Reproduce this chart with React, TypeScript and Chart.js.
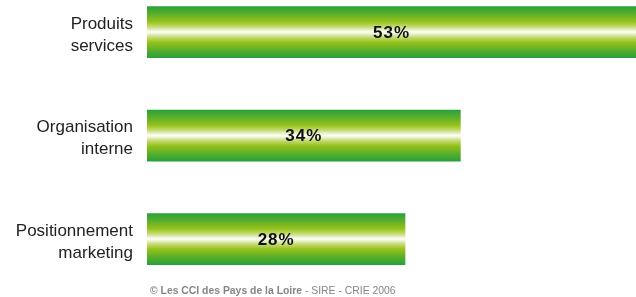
import React, { useEffect, useRef } from "react";
import { Chart, registerables } from "chart.js";

Chart.register(...registerables);

const categories: string[][] = [
  ["Produits", "services"],
  ["Organisation", "interne"],
  ["Positionnement", "marketing"],
];
const values: number[] = [53, 34, 28];
const valueLabels: string[] = ["53%", "34%", "28%"];
const axisMax = 53;
const footerBold = "© Les CCI des Pays de la Loire";
const footerNormal = " - SIRE - CRIE 2006";

const FONT = "'Liberation Sans', Arial, sans-serif";

const valuePlugin = {
  id: "valueLabels",
  afterDatasetsDraw(chart: any) {
    const ctx = chart.ctx;
    const meta = chart.getDatasetMeta(0);
    ctx.save();
    ctx.font = `bold 17px ${FONT}`;
    try { ctx.letterSpacing = "1px"; } catch (e) {}
    ctx.fillStyle = "#111111";
    ctx.textAlign = "center";
    ctx.textBaseline = "middle";
    meta.data.forEach((el: any, i: number) => {
      const cx = (el.base + el.x) / 2;
      ctx.fillText(valueLabels[i], cx, el.y + 1);
    });
    ctx.restore();
  },
};

const footerPlugin = {
  id: "footer",
  afterDraw(chart: any) {
    const ctx = chart.ctx;
    ctx.save();
    ctx.textBaseline = "alphabetic";
    ctx.textAlign = "left";
    ctx.fillStyle = "#858585";
    let x = 150;
    const y = 294;
    ctx.font = `bold 10.4px ${FONT}`;
    ctx.fillText(footerBold, x, y);
    x += ctx.measureText(footerBold).width;
    ctx.font = `10.4px ${FONT}`;
    ctx.fillText(footerNormal, x, y);
    ctx.restore();
  },
};

function barGradient(context: any) {
  const chart = context.chart;
  const yScale = chart.scales && chart.scales.y;
  if (!yScale || context.dataIndex === undefined) return "#8dbd1e";
  const y = yScale.getPixelForValue(context.dataIndex);
  if (!isFinite(y)) return "#8dbd1e";
  const h = 26;
  const g = chart.ctx.createLinearGradient(0, y - h, 0, y + h);
  g.addColorStop(0, "#27a03c");
  g.addColorStop(0.14, "#55ad2c");
  g.addColorStop(0.3, "#95c11a");
  g.addColorStop(0.4, "#c4db72");
  g.addColorStop(0.5, "#ffffff");
  g.addColorStop(0.6, "#c4db72");
  g.addColorStop(0.7, "#95c11a");
  g.addColorStop(0.86, "#55ad2c");
  g.addColorStop(1, "#27a03c");
  return g;
}

export default function App() {
  const ref = useRef<HTMLCanvasElement | null>(null);

  useEffect(() => {
    document.body.style.margin = "0";
    const canvas = ref.current;
    if (!canvas) return;
    const chart = new Chart(canvas, {
      type: "bar",
      data: {
        labels: categories,
        datasets: [
          {
            data: values,
            backgroundColor: barGradient,
            borderWidth: 0,
            barPercentage: 1,
            categoryPercentage: 0.5,
            clip: false,
          } as any,
        ],
      },
      options: {
        indexAxis: "y",
        animation: false,
        responsive: false,
        maintainAspectRatio: false,
        layout: { padding: { top: 32, bottom: 58, left: 0, right: 0 } },
        plugins: {
          legend: { display: false },
          tooltip: { enabled: false },
        },
        scales: {
          x: {
            display: false,
            min: 0,
            max: axisMax,
          },
          y: {
            offset: false,
            border: { display: false },
            grid: { display: false, drawTicks: false },
            ticks: {
              padding: 14,
              labelOffset: 3,
              color: "#222222",
              font: { family: FONT, size: 17, lineHeight: 1.3 },
            },
            afterFit(scale: any) {
              scale.width = 147;
              scale.paddingTop = 0;
              scale.paddingBottom = 0;
            },
          },
        },
      },
      plugins: [valuePlugin, footerPlugin],
    });
    return () => chart.destroy();
  }, []);

  return (
    <div style={{ position: "absolute", left: 0, top: 0, width: 636, height: 297 }}>
      <canvas ref={ref} width={636} height={297} style={{ display: "block" }} />
    </div>
  );
}
